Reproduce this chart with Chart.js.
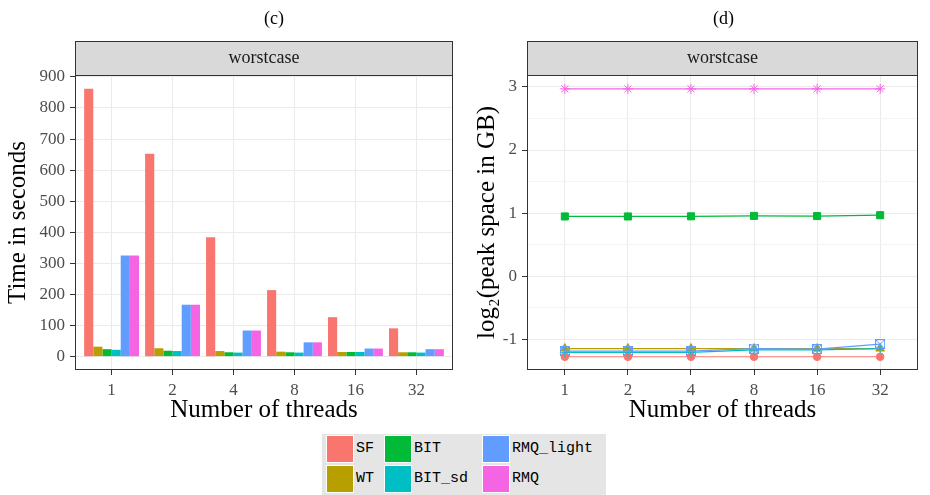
<!DOCTYPE html>
<html>
<head>
<meta charset="utf-8">
<script src="https://cdn.jsdelivr.net/npm/chart.js@4.4.0/dist/chart.umd.min.js"></script>
<style>
  body { margin: 0; background: #fff; }
  #wrap { position: relative; width: 930px; height: 495px; overflow: hidden; }
  canvas { position: absolute; top: 0; }
  #timeChart { left: 0; }
  #spaceChart { left: 465px; }
  #legend {
    position: absolute; left: 322px; top: 434px; width: 284px; height: 61px;
    background: #e5e5e5;
    font-family: "Liberation Mono", "DejaVu Sans Mono", monospace; font-size: 15px; color: #000;
  }
  .key { position: absolute; width: 28px; height: 28px; box-sizing: border-box; border: 1px solid #fff; }
  .lbl { position: absolute; height: 28px; line-height: 28px; white-space: pre; }
</style>
</head>
<body>
<div id="wrap">
  <canvas id="timeChart" width="465" height="425"></canvas>
  <canvas id="spaceChart" width="465" height="425"></canvas>
  <div id="legend"></div>
</div>
<script>
// categories (number of threads)
const threads = ["1", "2", "4", "8", "16", "32"];
const seriesNames = ["SF", "WT", "BIT", "BIT_sd", "RMQ_light", "RMQ"];
const seriesColors = ["#F8766D", "#B79F00", "#00BA38", "#00BFC4", "#619CFF", "#F564E3"];

// (c) time in seconds
const timeSF = [862, 653, 384, 214, 127, 91];
const timeWT = [32, 27, 18, 16, 15, 14];
const timeBIT = [24, 19, 14, 14, 15, 14];
const timeBITsd = [22, 18, 13, 13, 15, 13];
const timeRMQlight = [325, 167, 84, 46, 26, 24];
const timeRMQ = [325, 167, 84, 46, 26, 24];

// (d) log2 peak space in GB
const spaceSF = [-1.28, -1.28, -1.28, -1.28, -1.28, -1.28];
const spaceWT = [-1.15, -1.15, -1.15, -1.15, -1.15, -1.15];
const spaceBIT = [0.946, 0.946, 0.948, 0.955, 0.952, 0.966];
const spaceBITsd = [-1.21, -1.21, -1.21, -1.17, -1.17, -1.15];
const spaceRMQlight = [-1.19, -1.19, -1.19, -1.15, -1.16, -1.08];
const spaceRMQ = [2.97, 2.97, 2.97, 2.97, 2.97, 2.97];

// tick labels (minor ticks have no label)
const timeTicks = [0, 50, 100, 150, 200, 250, 300, 350, 400, 450, 500, 550, 600, 650, 700, 750, 800, 850, 900];
const timeMajor = [0, 100, 200, 300, 400, 500, 600, 700, 800, 900];
const spaceTicks = [-1, -0.5, 0, 0.5, 1, 1.5, 2, 2.5, 3];
const spaceMajor = [-1, 0, 1, 2, 3];

const timeSeries = [timeSF, timeWT, timeBIT, timeBITsd, timeRMQlight, timeRMQ];
const spaceSeries = [spaceSF, spaceWT, spaceBIT, spaceBITsd, spaceRMQlight, spaceRMQ];

const serif = "'Liberation Serif', 'DejaVu Serif', serif";

// ggplot shape 7: square with an x inside
function boxedX(color) {
    const c = document.createElement("canvas");
    c.width = 10;
    c.height = 10;
    const g = c.getContext("2d");
    g.strokeStyle = color;
    g.lineWidth = 1;
    g.strokeRect(0.5, 0.5, 9, 9);
    g.beginPath();
    g.moveTo(1, 1); g.lineTo(9, 9);
    g.moveTo(9, 1); g.lineTo(1, 9);
    g.stroke();
    return c;
}
const pointStyles = ["circle", "triangle", "rect", "cross", boxedX(seriesColors[4]), "star"];
const pointSizes = [3.8, 5, 5, 5, 5, 5];

// grey strip on top of the panel + title + panel border
const facetPlugin = {
    id: "facet",
    afterDraw(chart, args, opts) {
        const { ctx, chartArea: a } = chart;
        ctx.save();
        ctx.fillStyle = "#d9d9d9";
        ctx.fillRect(a.left, 41, a.right - a.left, a.top - 41);
        ctx.strokeStyle = "#333";
        ctx.lineWidth = 1;
        ctx.strokeRect(a.left + 0.5, 41.5, a.right - a.left - 1, a.top - 41);
        ctx.strokeRect(a.left + 0.5, a.top + 0.5, a.right - a.left - 1, a.bottom - a.top - 1);
        ctx.fillStyle = "#1a1a1a";
        ctx.font = "18px " + serif;
        ctx.textAlign = "center";
        ctx.textBaseline = "middle";
        ctx.fillText(opts.strip, (a.left + a.right) / 2, 58);
        ctx.fillStyle = "#000";
        ctx.fillText(opts.title, (a.left + a.right) / 2 + opts.titleShift, 19);
        ctx.restore();
    },
};

function gridOpts(major) {
    return {
        color: (c) => (major.includes(c.tick?.value) ? "#ebebeb" : "#f4f4f4"),
        tickColor: (c) => (major.includes(c.tick?.value) ? "#333" : "rgba(0,0,0,0)"),
        tickLength: 5,
        tickWidth: 1,
        lineWidth: 1,
        offset: false,
    };
}

function xAxis() {
    return {
        type: "linear",
        min: 0.4,
        max: 6.6,
        offset: false,
        afterBuildTicks: (s) => { s.ticks = threads.map((t, i) => ({ value: i + 1 })); },
        afterFit: (s) => { s.height = 55; },
        grid: gridOpts([1, 2, 3, 4, 5, 6]),
        border: { display: false },
        ticks: {
            color: "#4d4d4d", font: { family: serif, size: 17 }, padding: 5,
            maxRotation: 0, autoSkip: false,
            callback: (v) => threads[v - 1],
        },
        title: { display: true, text: "Number of threads", color: "#000", font: { family: serif, size: 25 }, padding: { top: 0, bottom: 0 } },
    };
}

function yAxis(min, max, ticks, major, width, title, titlePad) {
    return {
        type: "linear",
        min, max,
        afterBuildTicks: (s) => { s.ticks = ticks.map((v) => ({ value: v })); },
        afterFit: (s) => { s.width = width; },
        grid: gridOpts(major),
        border: { display: false },
        ticks: {
            color: "#4d4d4d", font: { family: serif, size: 17 }, padding: 5,
            callback: (v) => (major.includes(v) ? String(v) : ""),
        },
        title: { display: true, text: title, color: "#000", font: { family: serif, size: 25 }, padding: { top: titlePad, bottom: 0 } },
    };
}

const common = {
    responsive: false,
    animation: false,
    devicePixelRatio: 1,
    layout: { padding: { top: 75, right: 12, left: 0, bottom: 0 } },
};

new Chart(document.getElementById("timeChart"), {
    type: "bar",
    data: {
        datasets: seriesNames.map((name, i) => ({
            label: name,
            data: timeSeries[i].map((v, j) => ({ x: j + 1, y: v })),
            backgroundColor: seriesColors[i],
            borderWidth: 0,
            categoryPercentage: 0.9,
            barPercentage: 1.0,
        })),
    },
    options: {
        ...common,
        plugins: {
            legend: { display: false },
            tooltip: { enabled: false },
            facet: { strip: "worstcase", title: "(c)", titleShift: 10 },
        },
        scales: {
            x: xAxis(),
            y: yAxis(-43, 906, timeTicks, timeMajor, 75, "Time in seconds", 3),
        },
    },
    plugins: [facetPlugin],
});

new Chart(document.getElementById("spaceChart"), {
    type: "line",
    data: {
        datasets: seriesNames.map((name, i) => ({
            label: name,
            data: spaceSeries[i].map((v, j) => ({ x: j + 1, y: v })),
            borderColor: seriesColors[i],
            backgroundColor: seriesColors[i],
            borderWidth: 1.2,
            pointStyle: pointStyles[i],
            pointRadius: pointSizes[i],
            pointBorderWidth: 1,
            tension: 0,
            order: -i,
        })),
    },
    options: {
        ...common,
        plugins: {
            legend: { display: false },
            tooltip: { enabled: false },
            facet: { strip: "worstcase", title: "(d)", titleShift: 1 },
        },
        scales: {
            x: xAxis(),
            y: yAxis(-1.49, 3.19, spaceTicks, spaceMajor, 62, "log\u2082(peak space in GB)", 7),
        },
    },
    plugins: [facetPlugin],
});

// shared legend, filled column by column like ggplot
const keyLeft = [4, 62, 160];
const legend = document.getElementById("legend");
seriesNames.forEach((name, i) => {
    const col = Math.floor(i / 2);
    const row = i % 2;
    const key = document.createElement("div");
    key.className = "key";
    key.style.background = seriesColors[i];
    key.style.left = keyLeft[col] + "px";
    key.style.top = 1 + row * 30 + "px";
    const lbl = document.createElement("div");
    lbl.className = "lbl";
    lbl.textContent = name;
    lbl.style.left = keyLeft[col] + 30 + "px";
    lbl.style.top = 1 + row * 30 + "px";
    legend.appendChild(key);
    legend.appendChild(lbl);
});
</script>
</body>
</html>
